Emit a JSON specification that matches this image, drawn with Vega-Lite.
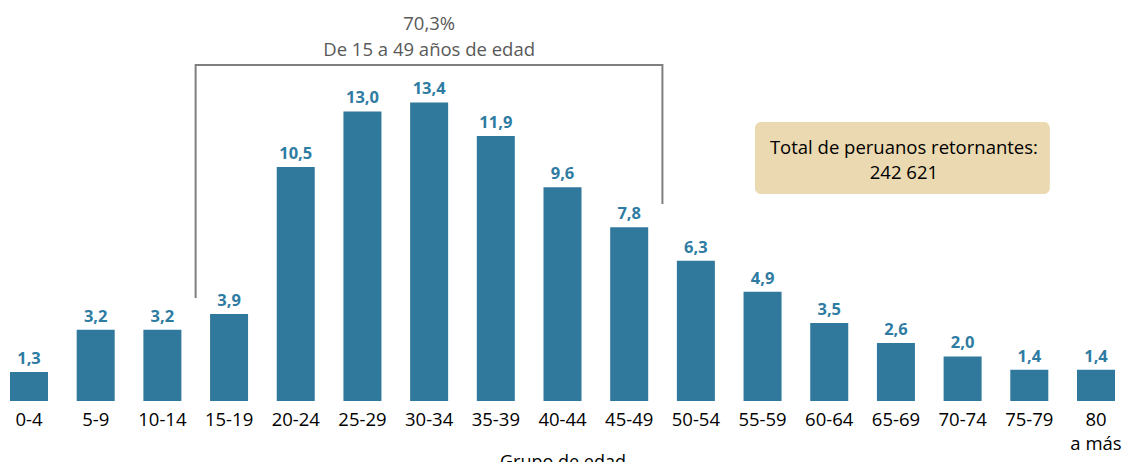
{
  "$schema": "https://vega.github.io/schema/vega-lite/v6.json",
  "autosize": "none",
  "width": 1125,
  "height": 401,
  "padding": {"top": 0, "left": 0, "right": 0, "bottom": 61},
  "background": "white",
  "config": {
    "view": {"stroke": null},
    "font": "Open Sans",
    "text": {"font": "Open Sans"}
  },
  "datasets": {
    "bars": [
      {"grupo": "0-4", "pct": 1.3, "label": "1,3"},
      {"grupo": "5-9", "pct": 3.2, "label": "3,2"},
      {"grupo": "10-14", "pct": 3.2, "label": "3,2"},
      {"grupo": "15-19", "pct": 3.9, "label": "3,9"},
      {"grupo": "20-24", "pct": 10.5, "label": "10,5"},
      {"grupo": "25-29", "pct": 13.0, "label": "13,0"},
      {"grupo": "30-34", "pct": 13.4, "label": "13,4"},
      {"grupo": "35-39", "pct": 11.9, "label": "11,9"},
      {"grupo": "40-44", "pct": 9.6, "label": "9,6"},
      {"grupo": "45-49", "pct": 7.8, "label": "7,8"},
      {"grupo": "50-54", "pct": 6.3, "label": "6,3"},
      {"grupo": "55-59", "pct": 4.9, "label": "4,9"},
      {"grupo": "60-64", "pct": 3.5, "label": "3,5"},
      {"grupo": "65-69", "pct": 2.6, "label": "2,6"},
      {"grupo": "70-74", "pct": 2.0, "label": "2,0"},
      {"grupo": "75-79", "pct": 1.4, "label": "1,4"},
      {"grupo": "80 a más", "pct": 1.4, "label": "1,4"}
    ],
    "bracket": [
      {"grupo": "15-19", "y": 4.62, "o": 1},
      {"grupo": "15-19", "y": 15.08, "o": 2},
      {"grupo": "50-54", "y": 15.08, "o": 3},
      {"grupo": "50-54", "y": 8.84, "o": 4}
    ],
    "titles": [
      {"grupo": "30-34", "y": 16.92, "t": "70,3%"},
      {"grupo": "30-34", "y": 15.75, "t": "De 15 a 49 años de edad"}
    ],
    "box": [
      {"g1": "55-59", "g2": "75-79", "y1": 12.52, "y2": 9.29}
    ],
    "boxtext": [
      {"grupo": "65-69", "y": 11.36, "t": "Total de peruanos retornantes:"},
      {"grupo": "65-69", "y": 10.24, "t": "242 621"}
    ]
  },
  "encoding": {
    "x": {
      "field": "grupo",
      "type": "nominal",
      "sort": null,
      "scale": {
        "domain": ["0-4","5-9","10-14","15-19","20-24","25-29","30-34","35-39","40-44","45-49","50-54","55-59","60-64","65-69","70-74","75-79","80 a más"],
        "paddingInner": 0.43,
        "paddingOuter": 0.15
      },
      "axis": {
        "title": "Grupo de edad",
        "titleFont": "Open Sans",
        "titleFontSize": 18,
        "titleFontWeight": "normal",
        "titleColor": "#000000",
        "titlePadding": 1,
        "labelAngle": 0,
        "labelFont": "Open Sans",
        "labelFontSize": 18.5,
        "labelColor": "#000000",
        "labelPadding": 9,
        "labelLineHeight": 24,
        "labelExpr": "datum.value == '80 a más' ? ['80', 'a más'] : datum.label",
        "domain": false,
        "ticks": false
      }
    }
  },
  "layer": [
    {
      "data": {"name": "bars"},
      "mark": {"type": "bar", "color": "#31799C"},
      "encoding": {
        "y": {"field": "pct", "type": "quantitative", "scale": {"domain": [0, 18]}, "axis": null}
      }
    },
    {
      "data": {"name": "bars"},
      "mark": {"type": "text", "baseline": "bottom", "dy": -5, "fontSize": 16.5, "fontWeight": "bold", "color": "#2F7CA3"},
      "encoding": {
        "y": {"field": "pct", "type": "quantitative"},
        "text": {"field": "label"}
      }
    },
    {
      "data": {"name": "bracket"},
      "mark": {"type": "line", "color": "#7F7F7F", "strokeWidth": 2},
      "encoding": {
        "x": {"field": "grupo", "type": "nominal", "bandPosition": -0.38},
        "y": {"field": "y", "type": "quantitative"},
        "order": {"field": "o"}
      }
    },
    {
      "data": {"name": "titles"},
      "mark": {"type": "text", "baseline": "middle", "fontSize": 18.5, "color": "#595959"},
      "encoding": {
        "y": {"field": "y", "type": "quantitative"},
        "text": {"field": "t"}
      }
    },
    {
      "data": {"name": "box"},
      "mark": {"type": "rect", "color": "#EBD9B1", "cornerRadius": 6},
      "encoding": {
        "x": {"field": "g1", "type": "nominal", "bandPosition": 0.3},
        "x2": {"field": "g2", "bandPosition": 1.04},
        "y": {"field": "y1", "type": "quantitative"},
        "y2": {"field": "y2"}
      }
    },
    {
      "data": {"name": "boxtext"},
      "mark": {"type": "text", "baseline": "middle", "fontSize": 18.5, "color": "#000000"},
      "encoding": {
        "x": {"field": "grupo", "type": "nominal", "bandPosition": 0.71},
        "y": {"field": "y", "type": "quantitative"},
        "text": {"field": "t"}
      }
    }
  ]
}
